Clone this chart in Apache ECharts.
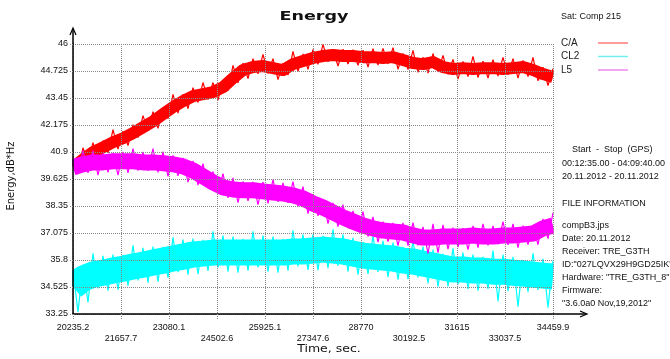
<!DOCTYPE html>
<html><head><meta charset="utf-8">
<script src="https://cdn.jsdelivr.net/npm/echarts@6/dist/echarts.min.js"></script>
<style>html,body{margin:0;padding:0;background:#fff}#c{width:670px;height:359px}</style>
</head><body><div id="c"></div>
<script>
// ---------------- data ----------------
const seriesNames = ['C/A', 'CL2', 'L5'];
const seriesColors = ['#ff0000', '#00ffff', '#ff00ff'];
const legendColors = ['#ff7a7a', '#70f0f0', '#ee88ee'];
const xTickLabels = ['20235.2','21657.7','23080.1','24502.6','25925.1','27347.6','28770','30192.5','31615','33037.5','34459.9'];
const yTickLabels = ['33.25','34.525','35.8','37.075','38.35','39.625','40.9','42.175','43.45','44.725','46'];
const timeStart = 20235.2, timeEnd = 34459.9;

// core (trend) of each signal, evenly spaced over the time span
const caTrend = [40.18,40.55,40.89,41.12,41.36,41.55,41.79,42.07,42.35,42.69,43.02,43.30,43.54,43.63,43.73,43.96,44.39,44.77,44.91,44.96,44.86,44.77,45.05,45.20,45.34,45.43,45.48,45.43,45.43,45.38,45.38,45.34,45.38,45.24,45.10,45.05,45.15,44.91,44.82,44.86,44.82,44.86,44.86,44.82,44.86,44.91,44.77,44.58,44.44];
const cl2Trend = [34.54,34.92,35.11,35.20,35.30,35.39,35.49,35.58,35.68,35.77,35.87,35.96,36.06,36.10,36.15,36.15,36.15,36.15,36.15,36.15,36.15,36.15,36.20,36.20,36.25,36.29,36.25,36.20,36.10,36.01,35.96,35.91,35.87,35.77,35.73,35.63,35.54,35.44,35.35,35.35,35.30,35.30,35.25,35.25,35.20,35.16,35.11,35.06,35.02];
const l5Trend = [40.18,40.32,40.41,40.41,40.46,40.46,40.46,40.41,40.41,40.37,40.32,40.22,40.03,39.75,39.47,39.23,39.13,39.09,39.09,39.04,38.99,38.94,38.85,38.71,38.47,38.28,38.05,37.81,37.62,37.43,37.29,37.19,37.15,37.10,36.96,36.86,36.86,36.91,36.91,36.91,36.96,36.91,36.91,36.96,36.96,37.00,37.05,37.29,37.43];

// noisy excursions (spikes) of each signal, evenly spaced over the time span
const caTrace = [40.58,40.02,41.10,40.42,41.34,40.51,41.44,40.86,41.96,41.04,
41.88,41.20,42.19,41.58,42.62,41.91,42.80,42.02,43.01,42.48,
43.62,42.74,43.63,42.95,43.94,43.24,44.18,43.38,44.18,43.35,
44.28,43.80,44.99,44.16,45.10,44.37,45.31,44.59,45.51,44.61,
45.31,44.32,45.09,44.53,45.65,44.71,45.53,44.80,45.74,45.04,
45.98,45.16,45.73,44.96,45.75,45.05,45.73,44.99,45.71,44.91,
45.78,45.01,45.79,45.06,45.83,44.81,45.56,44.79,45.70,44.66,
45.38,44.63,45.55,44.68,45.46,44.57,45.27,44.34,45.18,44.46,
45.42,44.42,45.19,44.39,45.26,44.49,45.37,44.54,45.31,44.39,
45.23,44.46,45.37,44.26,44.91,44.04,44.84];
const cl2Trace = [35.29,33.35,35.57,33.80,36.11,34.46,36.00,34.35,36.05,34.40,
36.04,34.59,36.49,34.84,36.38,34.73,36.43,34.78,36.42,34.97,
36.87,35.22,36.76,35.11,36.81,35.13,36.75,35.28,37.15,35.45,
36.95,35.25,36.90,35.20,36.80,35.30,37.15,35.45,36.95,35.25,
36.90,35.20,36.80,35.30,37.20,35.50,37.00,35.33,37.00,35.32,
36.94,35.42,37.25,35.53,37.00,35.25,36.85,35.11,36.66,35.14,
36.96,35.24,36.71,34.99,36.62,34.87,36.42,34.90,36.73,34.98,
36.43,34.69,36.29,34.54,36.09,34.55,36.35,34.65,36.15,34.43,
36.05,34.35,35.95,34.43,36.25,33.85,36.05,34.33,35.95,33.60,
35.81,34.29,36.11,34.39,35.86,33.55,35.77];
const l5Trace = [40.68,39.85,40.97,39.92,40.96,39.81,40.83,39.94,40.86,39.81,
40.91,39.91,41.06,40.02,40.91,40.01,41.06,39.94,40.92,39.75,
40.74,39.77,40.62,39.48,40.48,39.34,40.35,39.19,39.97,38.95,
39.88,38.73,39.68,38.51,39.51,38.59,39.49,38.42,39.49,38.47,
39.59,38.55,39.44,38.50,39.50,38.33,39.26,37.99,38.89,37.88,
38.68,37.52,38.50,37.38,38.41,37.30,38.12,37.13,38.08,36.91,
37.84,36.64,37.61,36.67,37.55,36.48,37.55,36.48,37.56,36.49,
37.36,36.10,37.51,36.15,37.46,36.31,37.33,36.41,37.31,36.29,
37.41,36.39,37.51,36.49,37.41,36.54,37.61,36.51,37.51,36.38,
37.42,36.53,37.45,36.52,37.74,36.81,38.03];

const infoLines = [
  ['Start  -  Stop  (GPS)', 572, 150],
  ['00:12:35.00 - 04:09:40.00', 562, 164],
  ['20.11.2012 - 20.11.2012', 562, 177],
  ['FILE INFORMATION', 562, 204],
  ['compB3.jps', 562, 226],
  ['Date: 20.11.2012', 562, 239],
  ['Receiver: TRE_G3TH', 562, 252],
  ['ID:"027LQVX29H9GD25IK"', 562, 265],
  ['Hardware: "TRE_G3TH_8"', 562, 278],
  ['Firmware:', 562, 291],
  ['"3.6.0a0 Nov,19,2012"', 562, 304]
];

// --------------- build ---------------
function toPairs(vals) {
  const step = (timeEnd - timeStart) / (vals.length - 1);
  return vals.map((v, i) => [timeStart + i * step, v]);
}
const trends = [caTrend, cl2Trend, l5Trend];
const traces = [caTrace, cl2Trace, l5Trace];
const coreWidths = [12, 26, 16];
const tickFont = 'Liberation Sans, Arial, sans-serif';
const mainFont = 'DejaVu Sans, sans-serif';
const xTickValues = xTickLabels.map(Number);
const yTickValues = yTickLabels.map(Number);

const series = [];
for (let s = 0; s < 3; s++) {
  series.push({
    name: seriesNames[s], type: 'line', data: toPairs(trends[s]), showSymbol: false, silent: true,
    lineStyle: { color: seriesColors[s], width: coreWidths[s], cap: 'butt', join: 'round' },
    itemStyle: { color: seriesColors[s] }, animation: false
  });
  series.push({
    name: seriesNames[s], type: 'line', data: toPairs(traces[s]), showSymbol: false, silent: true,
    lineStyle: { color: seriesColors[s], width: 1.2, opacity: 1 },
    itemStyle: { color: seriesColors[s] }, animation: false
  });
}

const graphic = [
  // white masks just outside the plot so thick strokes do not spill past the frame
  { type: 'rect', z: 5, shape: { x: 0, y: 30, width: 72.2, height: 295 }, style: { fill: '#fff' }, silent: true },
  { type: 'rect', z: 5, shape: { x: 553.8, y: 30, width: 6.5, height: 295 }, style: { fill: '#fff' }, silent: true },
  { type: 'text', z: 20, x: 314, y: 17, scaleX: 1.35, style: { text: 'Energy', font: 'bold 13px ' + mainFont, fill: '#111', textAlign: 'center', textVerticalAlign: 'middle' } },
  { type: 'text', z: 20, x: 329, y: 349, scaleX: 1.25, style: { text: 'Time, sec.', font: '10px ' + mainFont, fill: '#111', textAlign: 'center', textVerticalAlign: 'middle' } },
  { type: 'text', z: 20, x: 11, y: 176, rotation: Math.PI / 2, style: { text: 'Energy,dB*Hz', font: '10px ' + mainFont, fill: '#111', textAlign: 'center', textVerticalAlign: 'middle' } },
  { type: 'text', z: 20, x: 561, y: 17, style: { text: 'Sat: Comp 215', font: '9px ' + tickFont, fill: '#111', textVerticalAlign: 'middle' } },
  { type: 'line', z: 20, shape: { x1: 73, y1: 44, x2: 73, y2: 29 }, style: { stroke: '#000', lineWidth: 1.5 } },
  { type: 'polyline', z: 20, shape: { points: [[70, 35], [73, 28], [76, 35]] }, style: { stroke: '#000', lineWidth: 1.2, fill: null } },
  { type: 'line', z: 20, shape: { x1: 553, y1: 314, x2: 586, y2: 314 }, style: { stroke: '#000', lineWidth: 1.5 } },
  { type: 'polyline', z: 20, shape: { points: [[580, 311], [587, 314], [580, 317]] }, style: { stroke: '#000', lineWidth: 1.2, fill: null } }
];
infoLines.forEach(([t, x, y]) => graphic.push({ type: 'text', z: 20, x: x, y: y, style: { text: t, font: '9px ' + tickFont, fill: '#111', textVerticalAlign: 'middle' } }));

const chart = echarts.init(document.getElementById('c'), null, { renderer: 'canvas' });
chart.setOption({
  animation: false,
  backgroundColor: '#fff',
  grid: { left: 73, top: 44, width: 480, height: 270, containLabel: false },
  legend: {
    data: seriesNames.map((n, i) => ({ name: n, itemStyle: { color: legendColors[i] } })),
    orient: 'vertical', left: 556, top: 33, align: 'right', icon: 'rect',
    itemWidth: 30, itemHeight: 1.5, itemGap: 3.5, selectedMode: false, z: 20,
    formatter: n => '{t|' + n + '}',
    textStyle: { fontSize: 10, color: '#222', fontFamily: tickFont,
      rich: { t: { width: 32, align: 'left', fontSize: 10, color: '#222', fontFamily: tickFont } } }
  },
  xAxis: {
    type: 'value', min: timeStart, max: timeEnd, interval: (timeEnd - timeStart) / 10, z: 10,
    axisLine: { show: true, lineStyle: { color: '#000', width: 1.5 } },
    axisTick: { show: true, length: 5, customValues: xTickValues, lineStyle: { color: '#888', type: 'dotted' } },
    axisLabel: {
      customValues: xTickValues, margin: 8, fontSize: 9, lineHeight: 11, color: '#111', fontFamily: tickFont,
      showMinLabel: true, showMaxLabel: true, hideOverlap: false,
      formatter: v => { let i = xTickValues.findIndex(t => Math.abs(t - v) < 1); if (i < 0) return ''; return i % 2 ? '\n' + xTickLabels[i] : xTickLabels[i]; }
    },
    splitLine: { show: true, lineStyle: { color: '#888', type: 'dotted', width: 1 } }
  },
  yAxis: {
    type: 'value', min: 33.25, max: 46, interval: 1.275, z: 10,
    axisLine: { show: true, lineStyle: { color: '#000', width: 1.5 } },
    axisTick: { show: true, length: 4, customValues: yTickValues, lineStyle: { color: '#888', type: 'dotted' } },
    axisLabel: {
      customValues: yTickValues, margin: 5, fontSize: 9, color: '#111', fontFamily: tickFont,
      showMinLabel: true, showMaxLabel: true,
      formatter: v => { let i = yTickValues.findIndex(t => Math.abs(t - v) < 0.01); return i < 0 ? '' : yTickLabels[i]; }
    },
    splitLine: { show: true, lineStyle: { color: '#888', type: 'dotted', width: 1 } }
  },
  graphic: graphic,
  series: series
});
</script></body></html>
